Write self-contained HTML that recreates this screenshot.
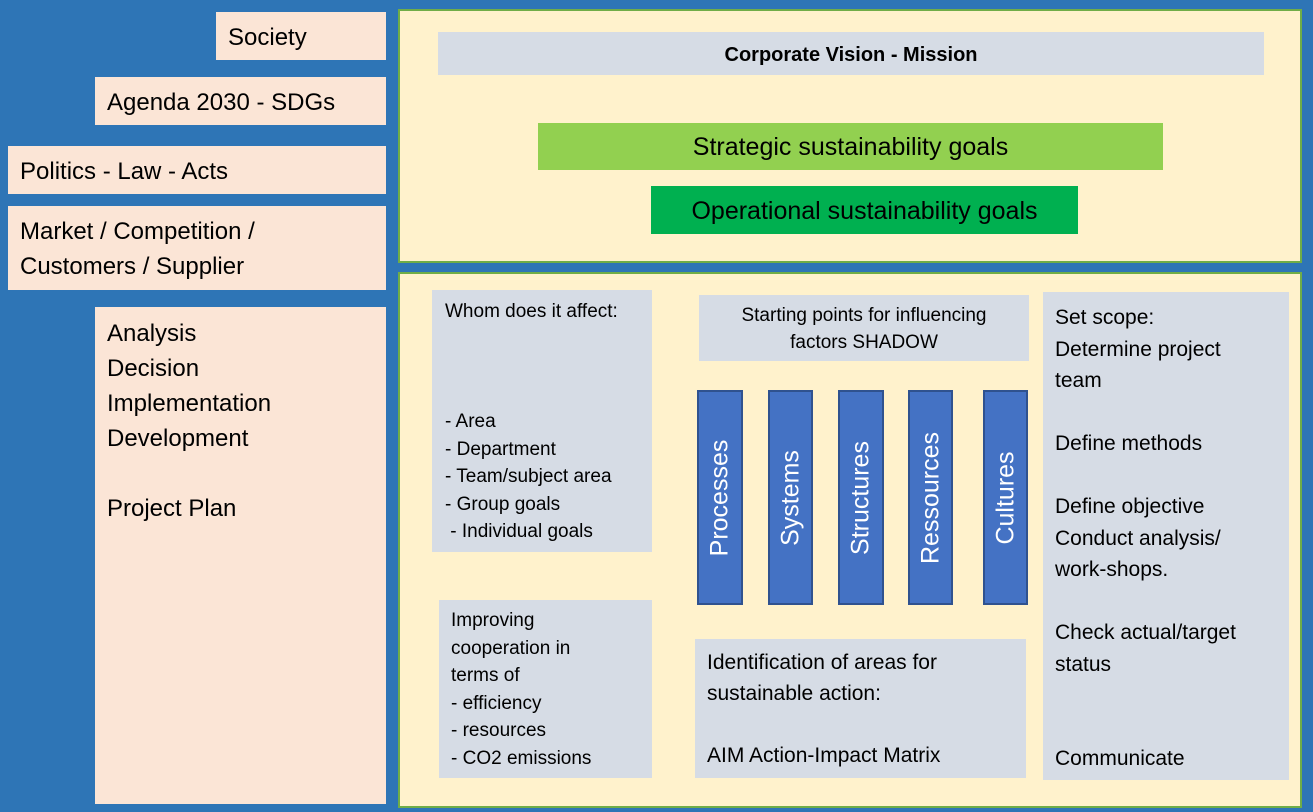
<!DOCTYPE html>
<html><head><meta charset="utf-8">
<style>
body{margin:0;width:1313px;height:812px;background:#2E75B6;position:relative;overflow:hidden;font-family:"Liberation Sans",sans-serif;}
div{position:absolute;box-sizing:border-box;}
.p{background:#FBE5D6;color:#000;font-size:24px;padding-left:12px;line-height:35px;}
.panel{background:#FFF2CC;border:2px solid #70AD47;}
.g{background:#D6DCE5;color:#000;}
.bar{background:#4472C4;border:2px solid #2F528F;top:390px;height:215px;}
.bar span{position:absolute;left:50%;top:50%;transform:translate(-50%,-50%) rotate(-90deg);color:#fff;font-size:25px;white-space:nowrap;}
</style></head><body>
<div class="p" style="left:216px;top:12px;width:170px;height:48px;padding-top:8px">Society</div>
<div class="p" style="left:95px;top:77px;width:291px;height:48px;padding-top:8px">Agenda 2030 - SDGs</div>
<div class="p" style="left:8px;top:146px;width:378px;height:48px;padding-top:8px">Politics - Law - Acts</div>
<div class="p" style="left:8px;top:206px;width:378px;height:84px;padding-top:8px">Market / Competition /<br>Customers / Supplier</div>
<div class="p" style="left:95px;top:307px;width:291px;height:497px;padding-top:9px">Analysis<br>Decision<br>Implementation<br>Development<br><br>Project Plan</div>

<div class="panel" style="left:398px;top:9px;width:904px;height:254px"></div>
<div class="g" style="left:438px;top:32px;width:826px;height:43px;text-align:center;font-weight:bold;font-size:20px;line-height:47px">Corporate Vision - Mission</div>
<div style="left:538px;top:123px;width:625px;height:47px;background:#92D050;text-align:center;font-size:25px;line-height:49px">Strategic sustainability goals</div>
<div style="left:651px;top:186px;width:427px;height:48px;background:#00B050;text-align:center;font-size:25px;line-height:50px">Operational sustainability goals</div>

<div class="panel" style="left:398px;top:272px;width:904px;height:536px"></div>
<div class="g" style="left:432px;top:290px;width:220px;height:262px;font-size:19px;line-height:27.5px;padding:8px 0 0 13px">Whom does it affect:<br><br><br><br>- Area<br>- Department<br>- Team/subject area<br>- Group goals<br>&nbsp;- Individual goals</div>
<div class="g" style="left:439px;top:600px;width:213px;height:178px;font-size:19px;line-height:27.5px;padding:7px 0 0 12px">Improving<br>cooperation in<br>terms of<br>- efficiency<br>- resources<br>- CO2 emissions</div>
<div class="g" style="left:699px;top:295px;width:330px;height:66px;font-size:19px;line-height:27px;text-align:center;padding-top:7px">Starting points for influencing<br>factors SHADOW</div>
<div class="bar" style="left:697px;width:46px"><span>Processes</span></div>
<div class="bar" style="left:768px;width:45px"><span>Systems</span></div>
<div class="bar" style="left:838px;width:46px"><span>Structures</span></div>
<div class="bar" style="left:908px;width:45px"><span>Ressources</span></div>
<div class="bar" style="left:983px;width:45px"><span>Cultures</span></div>
<div class="g" style="left:695px;top:639px;width:331px;height:139px;font-size:21px;line-height:31px;padding:8px 0 0 12px">Identification of areas for<br>sustainable action:<br><br>AIM Action-Impact Matrix</div>
<div class="g" style="left:1043px;top:292px;width:246px;height:488px;font-size:21px;line-height:31.5px;padding:10px 0 0 12px">Set scope:<br>Determine project<br>team<br><br>Define methods<br><br>Define objective<br>Conduct analysis/<br>work-shops.<br><br>Check actual/target<br>status<br><br><br>Communicate</div>
</body></html>
